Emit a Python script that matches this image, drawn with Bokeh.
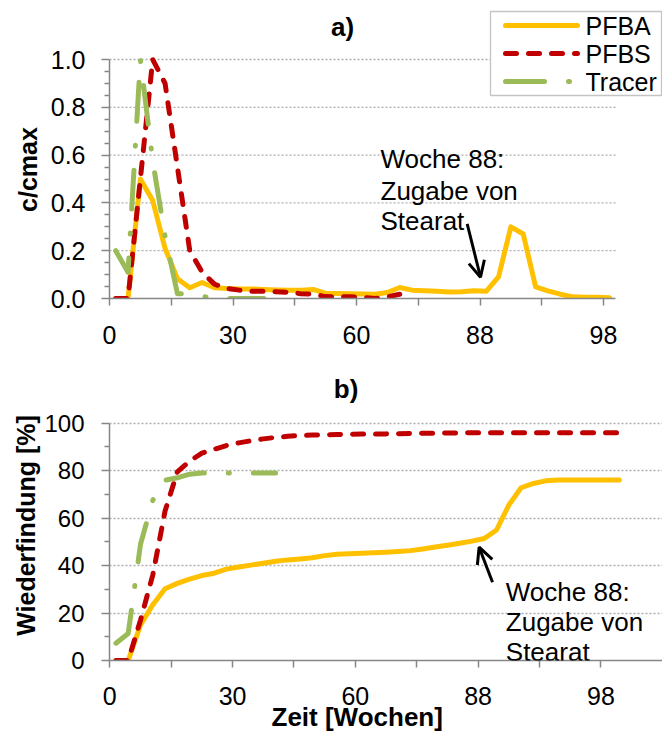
from math import pi

from bokeh.embed import file_html
from bokeh.layouts import column, row
from bokeh.models import (Arrow, FixedTicker, Label, NumeralTickFormatter,
                          OpenHead, Range1d, Title)
from bokeh.plotting import figure
from bokeh.resources import INLINE

# ---------------------------------------------------------------------------
# Data: one value per sampling event (category axis, 5 samples per tick)
# ---------------------------------------------------------------------------
# a) normalised outflow concentrations c/cmax
pfba_c = [0, 0, 0.50, 0.41, 0.21, 0.083, 0.045, 0.067, 0.045, 0.042, 0.040,
          0.040, 0.038, 0.036, 0.035, 0.035, 0.038, 0.021, 0.021, 0.020, 0.019,
          0.018, 0.025, 0.046, 0.035, 0.032, 0.030, 0.027, 0.028, 0.032, 0.030,
          0.09, 0.30, 0.27, 0.049, 0.032, 0.018, 0.007, 0.005, 0.005, 0.003]
pfbs_c = [0, 0, 0.50, 1.0, 0.90, 0.55, 0.20, 0.11, 0.06, 0.042,
          0.035, 0.030, 0.030, 0.028, 0.026, 0.020, 0.018, 0.008, 0.007, 0.007,
          0.005, 0.0, 0.007, 0.018]
tracer_c = [0.20, 0.11, 1.0, 0.575, 0.26, 0.02, 0.02, 0.01, 0, 0, 0, 0, 0]

# b) cumulative recovery in %
pfba_rec = [0, 0, 15, 23.5, 30.2, 32.5, 34.3, 35.8, 36.8, 38.5,
            39.4, 40.2, 41.0, 41.8, 42.4, 42.8, 43.3, 44.2, 44.8, 45.0,
            45.2, 45.4, 45.6, 45.9, 46.3, 47.0, 47.8, 48.6, 49.4, 50.3,
            51.4, 55.0, 65.5, 72.8, 74.6, 75.7, 76.1, 76.1, 76.1, 76.1,
            76.1, 76.1]
pfbs_rec = [0, 0, 17, 36, 63, 79.5, 84, 87.4, 89, 90.6,
            91.7, 92.6, 93.4, 94.0, 94.5, 94.8, 95.0, 95.1, 95.2, 95.3,
            95.4, 95.4, 95.5, 95.6, 95.7, 95.8, 95.8, 95.9, 95.9, 96.0,
            96.0, 96.0, 96.0, 96.0, 96.0, 96.0, 96.0, 96.0, 96.0, 96.0,
            96.0, 96.0]
tracer_rec = [7.3, 11.4, 49, 67.5, 76, 77, 78.5, 79, 79, 79, 79, 79, 79, 79]

# x axis: tick every 5 samples, week labels on every second tick
tick_pos = [0, 5, 10, 15, 20, 25, 30, 35, 40]
tick_text = ["0", "", "30", "", "60", "", "88", "", "98"]

top_yticks = [0, 0.2, 0.4, 0.6, 0.8, 1.0]
bot_yticks = [0, 20, 40, 60, 80, 100]

series_names = ["PFBA", "PFBS", "Tracer"]

# ---------------------------------------------------------------------------
# Styles
# ---------------------------------------------------------------------------
FONT = "Liberation Sans"
YELLOW = "#FFC000"
RED = "#C00000"
GREEN = "#9BBB59"
AXIS_GRAY = "#868686"
GRID_GRAY = "#ADADAD"
LW = 5
STYLES = {
    "PFBA": dict(line_color=YELLOW, line_width=LW, line_cap="round", line_join="round"),
    "PFBS": dict(line_color=RED, line_width=LW, line_cap="round", line_join="round",
                 line_dash="11 12"),
    "Tracer": dict(line_color=GREEN, line_width=LW, line_cap="round", line_join="round",
                   line_dash="39 24 1 24"),
}

PAGE_W, PAGE_H = 662, 733
STRIP_W = 41          # left strip holding the rotated y-axis titles
TOP_H = 365           # panel a)
BOT_H = PAGE_H - TOP_H


def xs(values):
    """Category midpoints for a series."""
    return [i + 0.5 for i in range(len(values))]


# page pixel -> data helpers for the layout items of each panel
def top_x(px):
    return (px - 109) / 12.35


def top_y(py):
    return (298.0 - py) / 239.0


def bot_x(px):
    return (px - 108.3) / 12.3


def bot_y(py):
    return (660.0 - py) / 2.373


def make_fig(height, x_range, y_range, left, bottom):
    p = figure(width=PAGE_W - STRIP_W, height=height, x_range=x_range, y_range=y_range,
               output_backend="svg", toolbar_location=None, title=None,
               min_border_left=left, min_border_right=0, min_border_top=0,
               min_border_bottom=bottom)
    p.outline_line_color = None
    p.background_fill_color = "white"
    p.border_fill_color = "white"
    p.xgrid.visible = False
    for ax in (p.xaxis[0], p.yaxis[0]):
        ax.axis_line_color = AXIS_GRAY
        ax.axis_line_width = 1.5
        ax.major_tick_line_color = AXIS_GRAY
        ax.major_tick_line_width = 1.5
        ax.minor_tick_line_color = AXIS_GRAY
        ax.minor_tick_line_width = 1.5
        ax.major_tick_in = 0
        ax.minor_tick_in = 0
        ax.major_label_text_font = FONT
        ax.major_label_text_font_size = "25px"
        ax.major_label_text_color = "black"
    xa = p.xaxis[0]
    xa.ticker = FixedTicker(ticks=tick_pos)
    xa.major_label_overrides = {t: s for t, s in zip(tick_pos, tick_text)}
    xa.major_tick_out = 7
    xa.major_label_standoff = 20
    ya = p.yaxis[0]
    ya.major_tick_out = 8
    ya.minor_tick_out = 5
    ya.major_label_standoff = 16
    return p


def text(p, x, y, s, size="25px", bold=False, align="left", baseline="middle", angle=0.0):
    p.add_layout(Label(x=x, y=y, text=s, text_font=FONT, text_font_size=size,
                       text_font_style="bold" if bold else "normal",
                       text_align=align, text_baseline=baseline, angle=angle,
                       text_color="black"))


# ---------------------------------------------------------------------------
# a) concentrations
# ---------------------------------------------------------------------------
p1 = make_fig(TOP_H, Range1d(0, 553 / 12.35), Range1d(0, 298.0 / 239.0), 68, TOP_H - 298)
p1.xaxis[0].bounds = (0, 41)
p1.yaxis[0].bounds = (0, 1)
p1.yaxis[0].ticker = FixedTicker(ticks=top_yticks,
                                 minor_ticks=[0.05, 0.1, 0.15, 0.25, 0.3, 0.35, 0.45, 0.5, 0.55,
                                              0.65, 0.7, 0.75, 0.85, 0.9, 0.95])
p1.yaxis[0].formatter = NumeralTickFormatter(format="0.0")
p1.ygrid.visible = False
grid_vals = top_yticks[1:]
p1.segment(x0=[0] * len(grid_vals), x1=[41] * len(grid_vals), y0=grid_vals, y1=grid_vals,
           line_color=GRID_GRAY, line_dash="2 2", line_width=1.3, level="underlay")

for name, vals in zip(series_names, [pfba_c, pfbs_c, tracer_c]):
    p1.line(xs(vals), vals, **STYLES[name])

text(p1, top_x(342), top_y(26), "a)", size="26px", bold=True, align="center")

# annotation: week 88
for s, base in zip(["Woche 88:", "Zugabe von", "Stearat"], [158.3, 190.5, 220.5]):
    text(p1, top_x(380), top_y(base), s, size="26px", baseline="alphabetic")
p1.add_layout(Arrow(end=OpenHead(size=16, line_width=3, line_color="black"),
                    x_start=top_x(466.7), y_start=top_y(223.3),
                    x_end=top_x(480), y_end=top_y(276.7),
                    line_width=3, line_color="black"))

# legend
p1.quad(left=[top_x(490)], right=[top_x(661)], top=[top_y(11)], bottom=[top_y(95)],
        fill_color="white", line_color="#C4C4C4", line_width=1.3)
for name, row_y in zip(series_names, [25, 53, 81]):
    p1.line([top_x(505), top_x(577)], [top_y(row_y), top_y(row_y)], **STYLES[name])
    text(p1, top_x(585), top_y(row_y), name)

# ---------------------------------------------------------------------------
# b) cumulative recovery
# ---------------------------------------------------------------------------
p2 = make_fig(BOT_H, Range1d(-0.3 / 12.3, 553.7 / 12.3), Range1d(0, 295 / 2.373), 67, BOT_H - 295)
p2.xaxis[0].bounds = (0, 45)
p2.xaxis[0].major_label_standoff = 19
p2.yaxis[0].bounds = (0, 100)
p2.yaxis[0].ticker = FixedTicker(ticks=bot_yticks, minor_ticks=[10, 30, 50, 70, 90])
p2.yaxis[0].major_label_text_font_size = "24px"
p2.yaxis[0].major_label_standoff = 17
p2.ygrid.ticker = FixedTicker(ticks=bot_yticks[1:])
p2.ygrid.grid_line_color = GRID_GRAY
p2.ygrid.grid_line_dash = "2 2"
p2.ygrid.grid_line_width = 1.3

for name, vals in zip(series_names, [pfba_rec, pfbs_rec, tracer_rec]):
    p2.line(xs(vals), vals, **STYLES[name])

text(p2, bot_x(345), bot_y(388), "b)", size="26px", bold=True, align="center")

for s, base in zip(["Woche 88:", "Zugabe von", "Stearat"], [591.7, 621.7, 651.7]):
    text(p2, bot_x(505), bot_y(base), s, size="26px", baseline="alphabetic")
p2.add_layout(Arrow(end=OpenHead(size=16, line_width=3, line_color="black"),
                    x_start=bot_x(491.7), y_start=bot_y(581.7),
                    x_end=bot_x(478.3), y_end=bot_y(546.7),
                    line_width=3, line_color="black"))

# x-axis title below the tick labels (left edge at page x = 270)
p2.add_layout(Title(text="Zeit [Wochen]", align="left", offset=270 - 108, standoff=-16,
                    text_font=FONT, text_font_size="26px", text_font_style="bold",
                    text_color="black"), "below")

# ---------------------------------------------------------------------------
# y-axis titles in a narrow strip on the left
# ---------------------------------------------------------------------------
left = figure(width=STRIP_W, height=PAGE_H, x_range=Range1d(0, STRIP_W),
              y_range=Range1d(0, PAGE_H), output_backend="svg", toolbar_location=None,
              title=None, x_axis_type=None, y_axis_type=None, min_border=0)
left.outline_line_color = None
left.grid.visible = False
text(left, 27, PAGE_H - 169, "c/cmax", bold=True, align="center", angle=pi / 2)
text(left, 25, PAGE_H - 525, "Wiederfindung [%]", bold=True, align="center", angle=pi / 2)

layout = row(left, column(p1, p2, spacing=0), spacing=0)
open("out.html", "w").write(file_html(layout, INLINE))
